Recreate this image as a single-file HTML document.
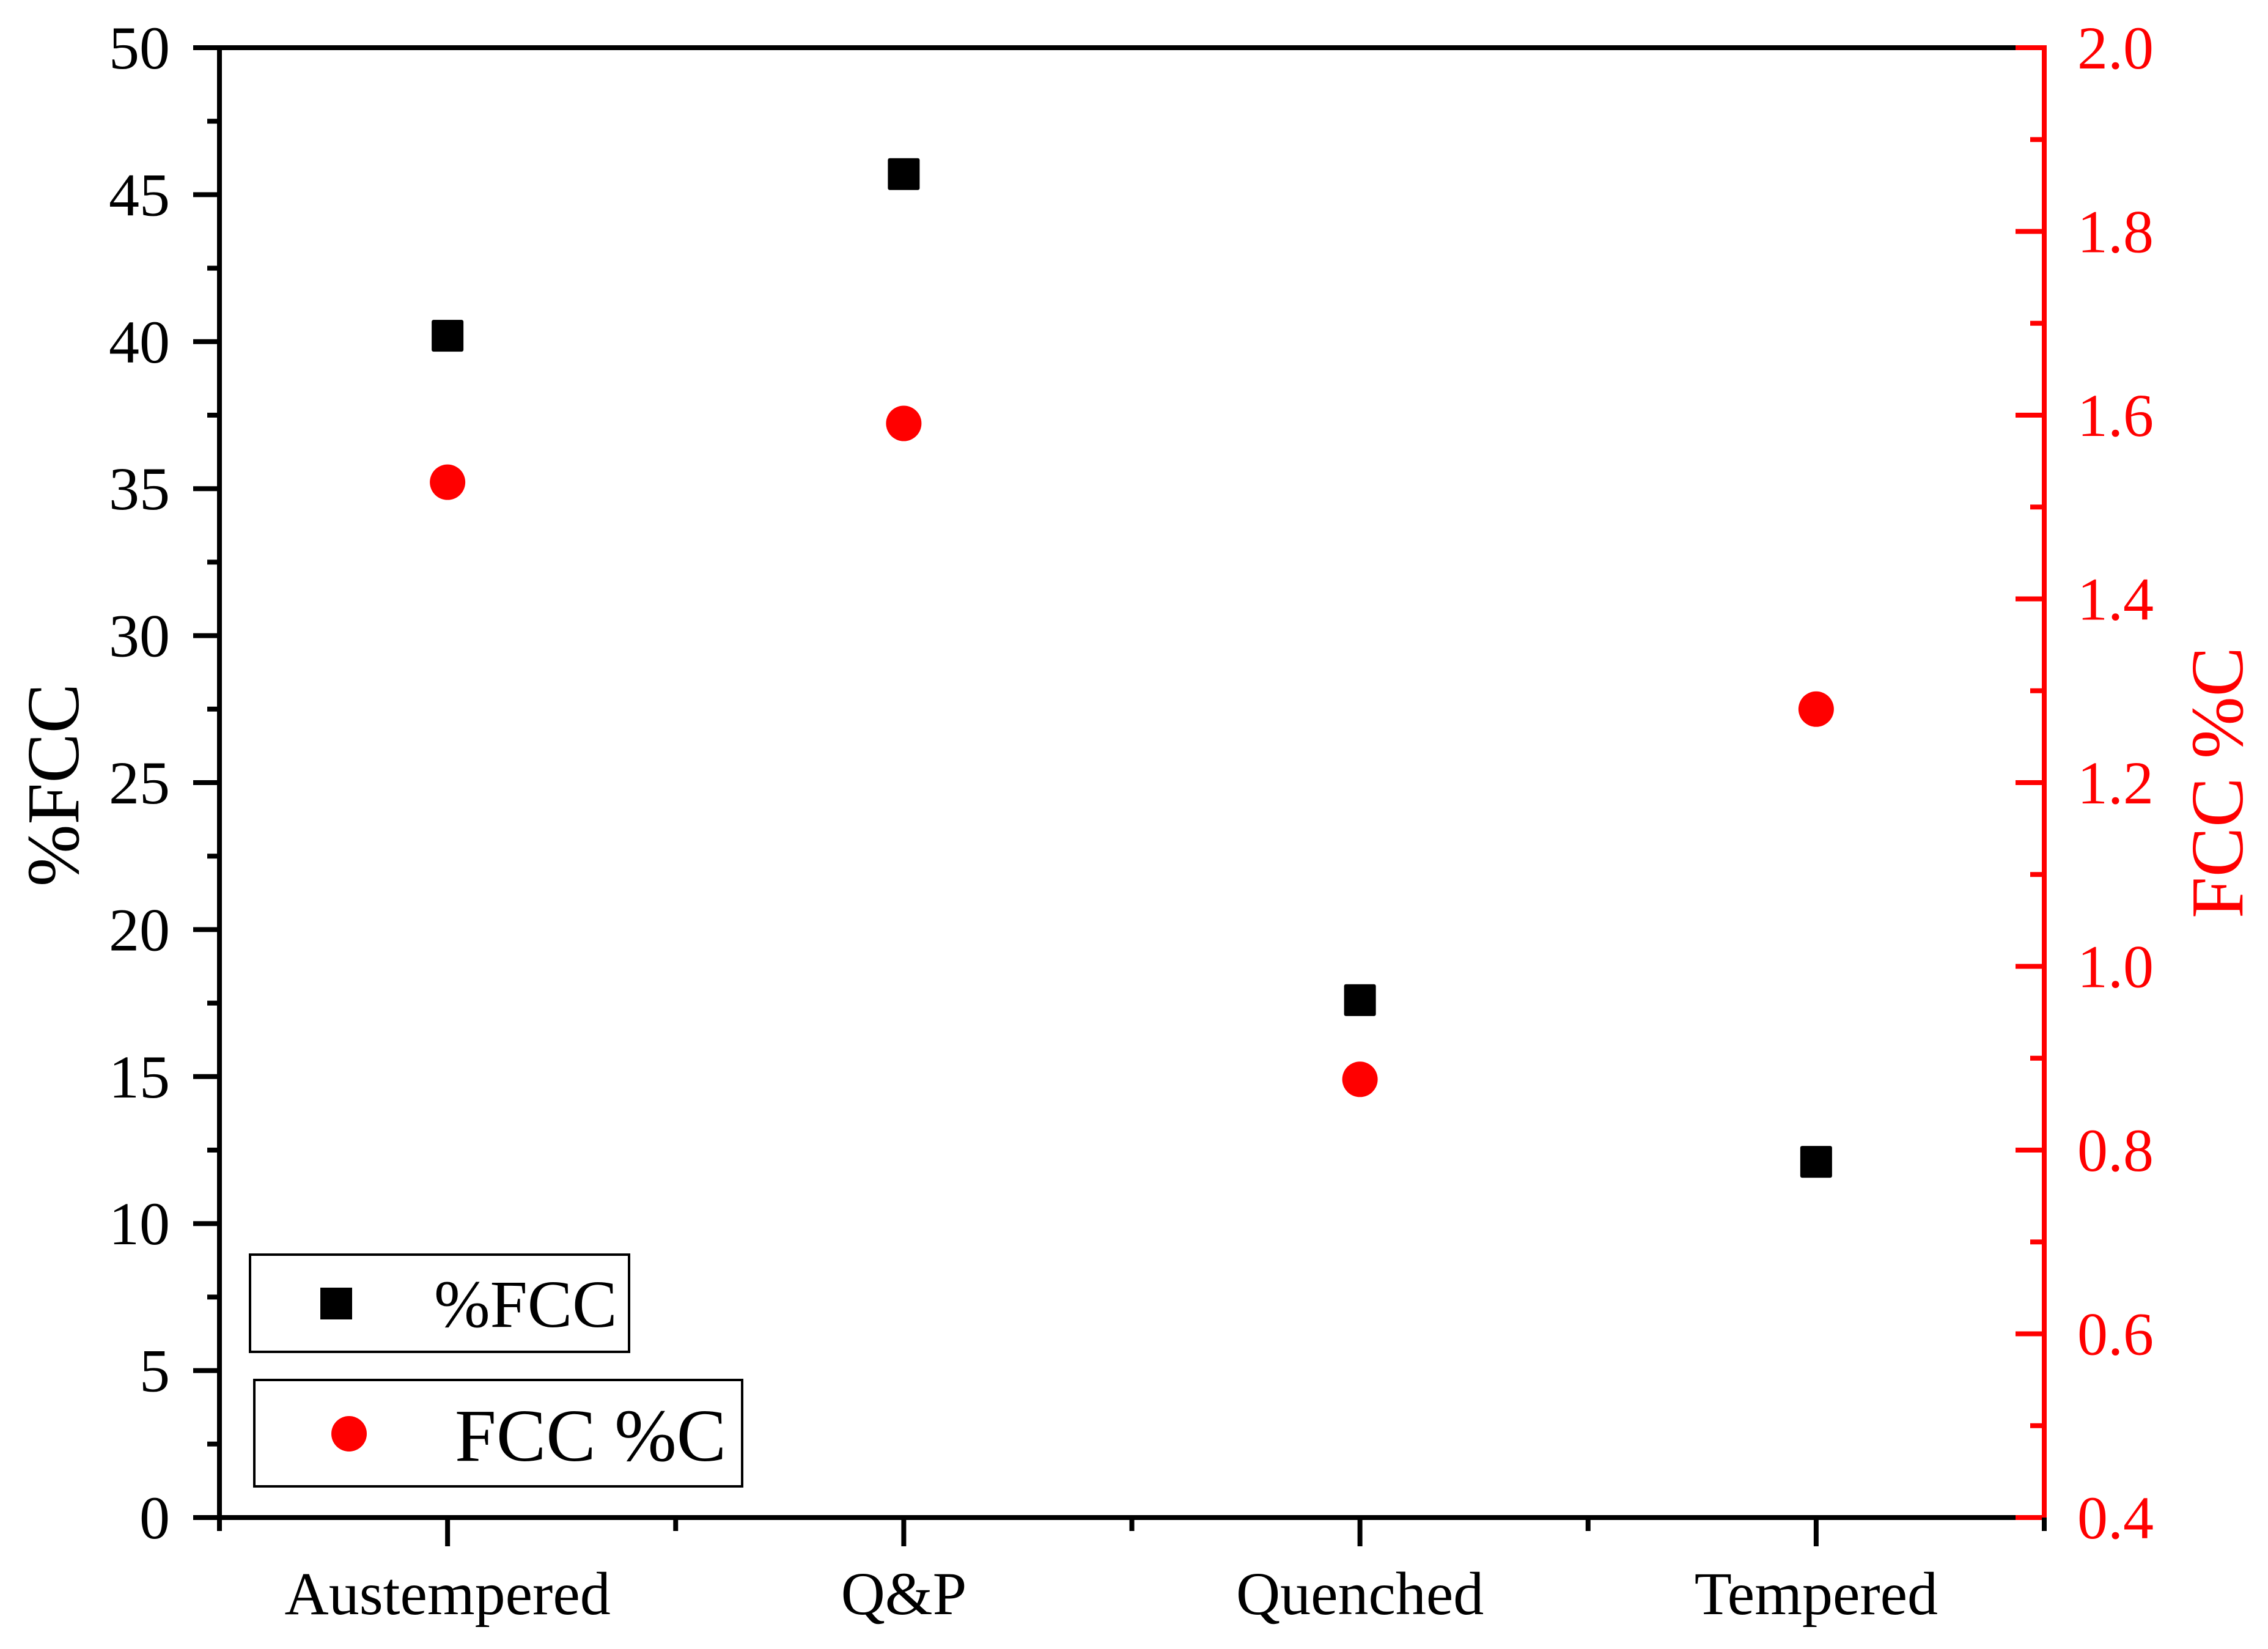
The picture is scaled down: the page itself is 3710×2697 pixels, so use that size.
<!DOCTYPE html>
<html><head><meta charset="utf-8"><style>
html,body{margin:0;padding:0;background:#fff;}
svg{display:block;font-family:"Liberation Serif",serif;}
</style></head><body>
<svg id="chart" width="3710" height="2697" viewBox="0 0 3710 2697" xmlns="http://www.w3.org/2000/svg">
<rect width="3710" height="2697" fill="#fff"/>
<g id="axes"></g>
<g id="marks"></g>
<text x="0" y="0" transform="translate(128,1284) rotate(-90)" text-anchor="middle" font-size="122" fill="#000">%FCC</text>
<text x="0" y="0" transform="translate(3668,1280) rotate(-90)" text-anchor="middle" font-size="122" fill="#f00">FCC %C</text>
<g>
<rect x="409" y="2052" width="620" height="159" fill="none" stroke="#000" stroke-width="4"/>
<rect x="524" y="2106" width="52" height="52" fill="#000"/>
<text x="710" y="2170" font-size="110" fill="#000">%FCC</text>
<rect x="416" y="2257" width="798" height="174" fill="none" stroke="#000" stroke-width="4"/>
<circle cx="571" cy="2345" r="29" fill="#f00"/>
<text x="744" y="2389" font-size="122" fill="#000">FCC %C</text>
</g>
</svg>
<script>
const categories = ["Austempered", "Q&P", "Quenched", "Tempered"];
const fccPercent = [40.2, 45.7, 17.6, 12.1];
const fccCarbon = [1.527, 1.591, 0.877, 1.28];
const leftTicks = [0, 5, 10, 15, 20, 25, 30, 35, 40, 45, 50];
const rightTicks = ["0.4", "0.6", "0.8", "1.0", "1.2", "1.4", "1.6", "1.8", "2.0"];

const NS = "http://www.w3.org/2000/svg";
const X0 = 359, X1 = 3344, Y0 = 2482, Y1 = 78;
function xs(i){ return X0 + (i + 0.5) / 4 * (X1 - X0) * (4/4) * 1; }
function xc(v){ return X0 + v * (X1 - X0) / 4.0 ; }
function xCat(i){ return X0 + (i + 0.5) * (X1 - X0) / 4; }
function yL(v){ return Y0 - v / 50 * (Y0 - Y1); }
function yR(v){ return Y0 - (v - 0.4) / 1.6 * (Y0 - Y1); }
function mk(tag, attrs, parent){ const e = document.createElementNS(NS, tag); for (const k in attrs) e.setAttribute(k, attrs[k]); parent.appendChild(e); return e; }
const axes = document.getElementById("axes");
const marks = document.getElementById("marks");

// frame
let e;
e = mk("line", {x1:X0, y1:Y1, x2:X1, y2:Y1, stroke:"#000", "stroke-width":8}, axes);


e = mk("line", {x1:X0, y1:Y1-4, x2:X0, y2:Y0+4, stroke:"#000", "stroke-width":8}, axes);


e = mk("line", {x1:X0-4, y1:Y0, x2:X1, y2:Y0, stroke:"#000", "stroke-width":8}, axes);


e = mk("line", {x1:X1, y1:Y1-4, x2:X1, y2:Y0+4, stroke:"#f00", "stroke-width":8}, axes);



// left ticks
for (let v = 0; v <= 50; v += 2.5) {
  const major = (v % 5 === 0);
  e = mk("line", {x1:X0 - (major ? 43 : 20), y1:yL(v), x2:X0, y2:yL(v), stroke:"#000", "stroke-width":8}, axes);
  
  
}
leftTicks.forEach(v => {
  e = mk("text", {x:278, y:yL(v)+34, "text-anchor":"end", "font-size":100, fill:"#000"}, axes);
  e.textContent = v;
  
  
});
// right ticks
for (let k = 0; k <= 16; k++) {
  const v = 0.4 + k * 0.1;
  const major = (k % 2 === 0);
  e = mk("line", {x1:X1 - (major ? 47 : 23), y1:yR(v), x2:X1, y2:yR(v), stroke:"#f00", "stroke-width":8}, axes);
  
  
}
rightTicks.forEach(s => {
  e = mk("text", {x:3398, y:yR(parseFloat(s))+34, "font-size":100, fill:"#f00"}, axes);
  e.textContent = s;
  
  
});
// bottom ticks
for (let k = 0; k <= 8; k++) {
  const v = k * 0.5;
  const major = (k % 2 === 1);
  e = mk("line", {x1:xc(v), y1:Y0, x2:xc(v), y2:Y0 + (major ? 47 : 22), stroke:"#000", "stroke-width":8}, axes);
  
  
}
categories.forEach((c, i) => {
  e = mk("text", {x:xCat(i), y:2640, "text-anchor":"middle", "font-size":100, fill:"#000"}, axes);
  e.textContent = c;
  
  
});
// marks
fccPercent.forEach((v, i) => {
  e = mk("rect", {x:xCat(i) - 26, y:yL(v) - 26, width:52, height:52, rx:3, fill:"#000"}, marks);
  
  
});
fccCarbon.forEach((v, i) => {
  e = mk("circle", {cx:xCat(i), cy:yR(v), r:29, fill:"#f00"}, marks);
  
  
});
</script>
</body></html>
